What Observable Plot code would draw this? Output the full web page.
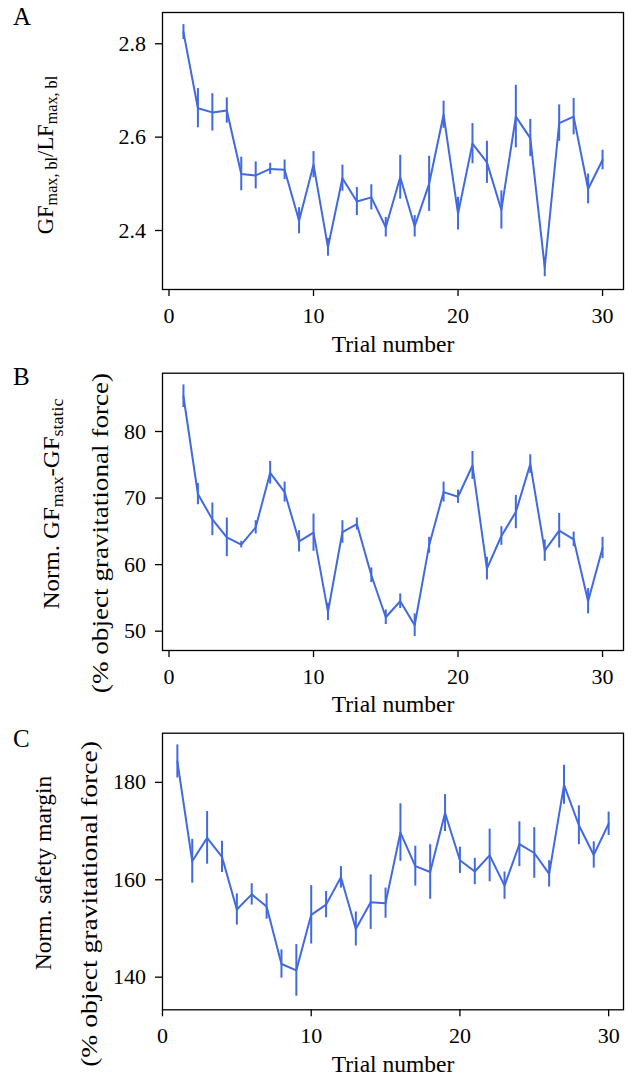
<!DOCTYPE html>
<html>
<head>
<meta charset="utf-8">
<script src="https://cdn.jsdelivr.net/npm/d3@7"></script>
<script src="https://cdn.jsdelivr.net/npm/@observablehq/plot@0.6"></script>
<style>
  html, body { margin: 0; padding: 0; background: white; }
  #root { position: relative; width: 636px; height: 1081px; overflow: hidden; font-family: "Liberation Serif", "DejaVu Serif", serif; color: black; }
  .panel { position: absolute; left: 0; }
  .lbl { position: absolute; white-space: nowrap; line-height: 1; }
  .hc { transform: translate(-50%, 0); }
  sub { font-size: 0.72em; vertical-align: -0.25em; line-height: 0; }
</style>
</head>
<body>
<div id="root"></div>
<script>
// ---- data ----
const trials = d3.range(1, 31);

const A_mean = [2.825, 2.662, 2.653, 2.657, 2.521, 2.518, 2.532, 2.530, 2.421, 2.541,
                2.364, 2.512, 2.462, 2.471, 2.407, 2.514, 2.409, 2.500, 2.648, 2.436,
                2.586, 2.546, 2.444, 2.644, 2.598, 2.321, 2.630, 2.644, 2.489, 2.551];
const A_err  = [0.016, 0.042, 0.040, 0.027, 0.036, 0.029, 0.012, 0.021, 0.028, 0.028,
                0.019, 0.028, 0.030, 0.027, 0.021, 0.047, 0.023, 0.059, 0.029, 0.035,
                0.043, 0.045, 0.041, 0.067, 0.040, 0.020, 0.039, 0.039, 0.032, 0.021];

const B_mean = [85.3, 70.6, 66.8, 64.1, 63.0, 65.6, 73.8, 70.9, 63.5, 64.8,
                52.9, 64.9, 66.1, 58.4, 52.1, 54.5, 50.9, 62.9, 70.9, 70.2,
                74.9, 59.4, 64.3, 67.9, 75.1, 62.1, 65.1, 63.8, 54.5, 62.5];
const B_err  = [1.7, 1.6, 2.45, 2.9, 0.5, 1.0, 1.7, 1.5, 1.6, 2.8,
                1.3, 1.7, 0.9, 1.1, 1.1, 1.1, 1.7, 1.2, 1.5, 1.0,
                2.1, 1.7, 1.4, 2.5, 1.4, 1.6, 2.6, 1.1, 1.9, 1.6];

const C_mean = [184.3, 163.8, 168.6, 164.7, 153.9, 157.0, 154.5, 142.7, 141.4, 152.8,
                154.9, 160.5, 149.9, 155.4, 155.2, 169.7, 162.8, 161.6, 173.7, 164.0,
                161.7, 165.0, 158.8, 167.3, 165.5, 161.2, 179.5, 171.2, 165.1, 171.5];
const C_err  = [3.4, 4.5, 5.4, 3.2, 3.2, 2.2, 2.6, 2.9, 5.3, 6.0,
                2.7, 2.2, 3.5, 5.6, 3.1, 5.9, 4.1, 5.6, 3.8, 2.7,
                2.7, 5.4, 2.8, 4.6, 5.2, 2.7, 4.0, 4.0, 2.7, 2.4];

const xTicks = [0, 10, 20, 30];
const A_ticks = [2.4, 2.6, 2.8];
const B_ticks = [50, 60, 70, 80];
const C_ticks = [140, 160, 180];

const xLabel = "Trial number";
const panelLetters = ["A", "B", "C"];

// ---- drawing ----
const BLUE = "#4169e1";
const FONT = "\"Liberation Serif\", \"DejaVu Serif\", serif";
const root = document.getElementById("root");

function table(mean, err) {
  return trials.map((t, i) => ({t, v: mean[i], e: err[i]}));
}

function panel({top, height, mt, mb, xDomain, yDomain, yTicks, yFormat, data}) {
  const chart = Plot.plot({
    width: 636,
    height,
    marginLeft: 162,
    marginRight: 13,
    marginTop: mt,
    marginBottom: mb,
    x: {domain: xDomain},
    y: {domain: yDomain},
    style: {fontFamily: FONT, fontSize: "22px", color: "black", background: "transparent", overflow: "visible"},
    marks: [
      Plot.ruleX(data, {x: "t", y1: d => d.v - d.e, y2: d => d.v + d.e, stroke: BLUE, strokeWidth: 2}),
      Plot.line(data, {x: "t", y: "v", stroke: BLUE, strokeWidth: 2}),
      Plot.frame({stroke: "black", strokeWidth: 1.3}),
      Plot.axisX({ticks: xTicks, tickSize: 7, tickPadding: 11, strokeWidth: 1.3, label: null, tickFormat: d3.format("d")}),
      Plot.axisY({ticks: yTicks, tickSize: 7, tickPadding: 9.5, strokeWidth: 1.3, label: null, tickFormat: yFormat})
    ]
  });
  chart.classList.add("panel");
  chart.style.top = top + "px";
  root.appendChild(chart);
}

function label(html, x, y, size, transform) {
  const d = document.createElement("div");
  d.className = "lbl";
  d.style.left = x + "px";
  d.style.top = y + "px";
  d.style.fontSize = size + "px";
  if (transform) d.style.transform = transform;
  d.innerHTML = html;
  root.appendChild(d);
  return d;
}
function ylabel(html, cx, cy, size, stretch) {
  return label(html, cx, cy, size, `translate(-50%, -50%) rotate(-90deg) scaleX(${stretch})`);
}

panel({top: 0, height: 360, mt: 12, mb: 71, xDomain: [-0.45, 31.45],
       yDomain: [2.2736, 2.867], yTicks: A_ticks, yFormat: d3.format(".1f"),
       data: table(A_mean, A_err)});
panel({top: 360, height: 360, mt: 12.7, mb: 70, xDomain: [-0.45, 31.45],
       yDomain: [47.1, 88.76], yTicks: B_ticks, yFormat: d3.format("d"),
       data: table(B_mean, B_err)});
panel({top: 720, height: 361, mt: 12.7, mb: 71.7, xDomain: [0, 31],
       yDomain: [133.3, 190.1], yTicks: C_ticks, yFormat: d3.format("d"),
       data: table(C_mean, C_err)});

// x-axis labels
[351.7, 711.7, 1071.7].forEach(b => label(xLabel, 393, b - 19, 23.5, "translate(-50%, 0)"));

// panel letters
[[25, 0], [385, 1], [747, 2]].forEach(([b, i]) => label(panelLetters[i], 13, b - 21, 25));

// y-axis labels
ylabel("GF<sub>max, bl</sub>/LF<sub>max, bl</sub>", 46, 155, 22.5, 1);
ylabel("Norm. GF<sub>max</sub>-GF<sub>static</sub>", 51, 504, 23, 1.08);
ylabel("(% object gravitational force)", 100, 533, 23, 1.18);
ylabel("Norm. safety margin", 43, 873, 23, 1.02);
ylabel("(% object gravitational force)", 89, 904, 23, 1.2);
</script>
</body>
</html>
